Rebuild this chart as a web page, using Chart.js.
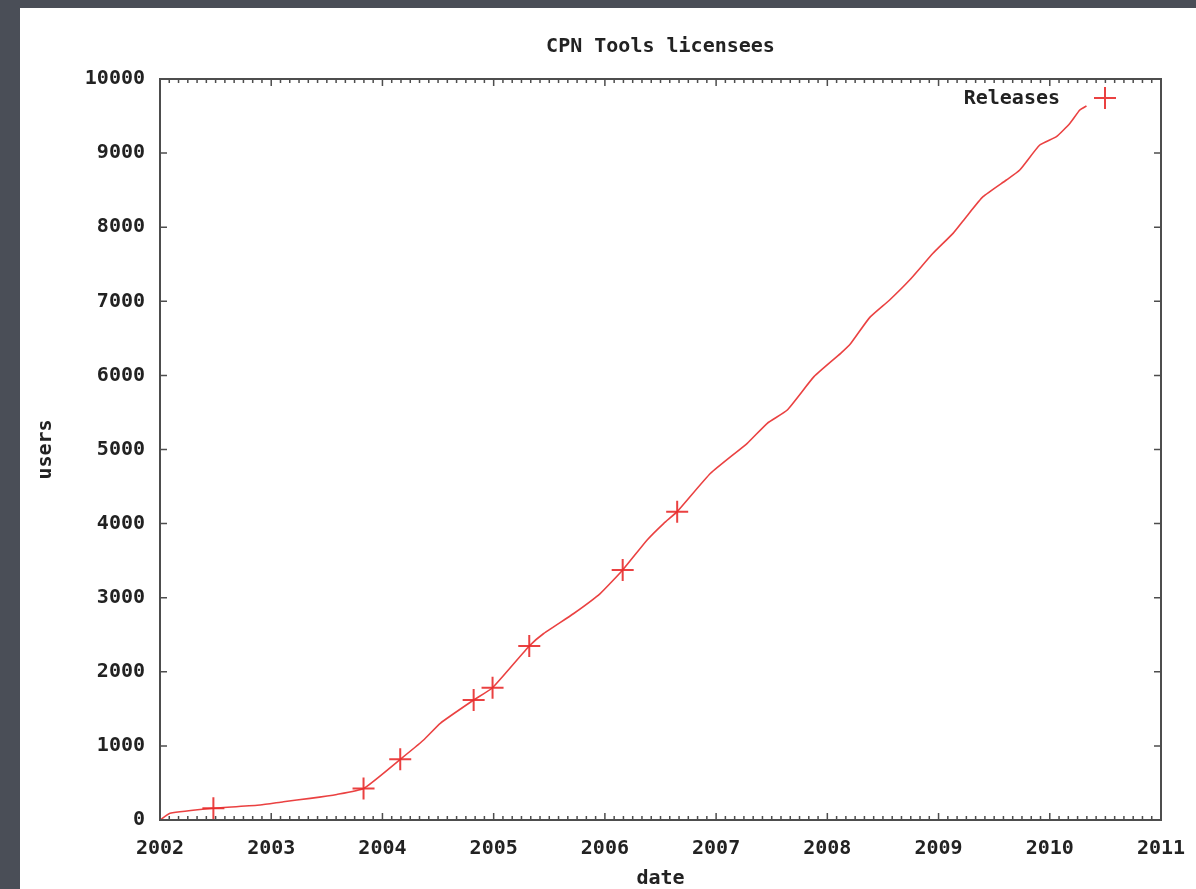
<!DOCTYPE html>
<html>
<head>
<meta charset="utf-8">
<script src="https://cdn.jsdelivr.net/npm/chart.js@4/dist/chart.umd.min.js"></script>
<style>
  html, body { margin: 0; padding: 0; }
  body { width: 1196px; height: 889px; background: #4a4e57; overflow: hidden; position: relative; }
  #panel { position: absolute; left: 20px; top: 8px; width: 1176px; height: 881px; background: #fff; }
  #myChart { display: block; }
</style>
</head>
<body>
<div id="panel"><canvas id="myChart" width="1176" height="881"></canvas></div>
<script>
// licensee curve (decimal year, users)
const lineYears = [2002.0, 2002.09, 2002.48, 2002.9, 2003.11, 2003.35, 2003.59, 2003.83, 2004.16, 2004.37,
  2004.52, 2004.82, 2004.99, 2005.32, 2005.45, 2005.72, 2005.96, 2006.16, 2006.38, 2006.53,
  2006.65, 2006.95, 2007.28, 2007.46, 2007.64, 2007.88, 2008.12, 2008.21, 2008.38, 2008.56,
  2008.74, 2008.95, 2009.13, 2009.25, 2009.40, 2009.61, 2009.73, 2009.91, 2010.06, 2010.18,
  2010.27, 2010.33];
const lineUsers = [0, 90, 158, 202, 247, 292, 345, 425, 819, 1080,
  1305, 1619, 1785, 2348, 2517, 2787, 3059, 3374, 3779, 4004,
  4161, 4679, 5084, 5354, 5533, 5983, 6298, 6430, 6780, 7018,
  7287, 7648, 7917, 8142, 8412, 8637, 8772, 9109, 9221, 9400,
  9582, 9636];

// release markers
const releaseYears = [2002.48, 2003.83, 2004.16, 2004.82, 2004.99, 2005.32, 2006.16, 2006.65];
const releaseUsers = [158, 425, 819, 1619, 1785, 2348, 3374, 4161];

const xTicks = [2002, 2003, 2004, 2005, 2006, 2007, 2008, 2009, 2010, 2011];
const yTicks = [0, 1000, 2000, 3000, 4000, 5000, 6000, 7000, 8000, 9000, 10000];

const red = 'rgba(232, 44, 44, 0.9)';
const frameColor = '#4d4d4d';
const monoFont = { family: '"DejaVu Sans Mono", "Liberation Mono", monospace', size: 20, weight: 'bold' };

const gnuplotFrame = {
    id: 'gnuplot_frame',
    afterDatasetsDraw: (chart) => {
      const c = chart.ctx;
      const a = chart.chartArea;
      const xs = chart.scales.x;
      const ys = chart.scales.y;
      c.save();
      c.strokeStyle = frameColor;
      c.lineWidth = 2;
      c.strokeRect(a.left, a.top, a.right - a.left, a.bottom - a.top);
      c.lineWidth = 1.5;
      c.beginPath();
      // x ticks: major yearly, minor monthly, top and bottom
      for (let y = 2002; y < 2011; y++) {
        for (let m = 0; m < 12; m++) {
          const px = xs.getPixelForValue(y + m / 12);
          const len = m === 0 ? 7 : 4;
          c.moveTo(px, a.bottom); c.lineTo(px, a.bottom - len);
          c.moveTo(px, a.top); c.lineTo(px, a.top + len);
        }
      }
      // y ticks left and right
      yTicks.forEach(v => {
        const py = ys.getPixelForValue(v);
        c.moveTo(a.left, py); c.lineTo(a.left + 7, py);
        c.moveTo(a.right, py); c.lineTo(a.right - 7, py);
      });
      c.stroke();

      // key box (top right)
      c.fillStyle = '#222';
      c.font = 'bold 20px "DejaVu Sans Mono", monospace';
      c.textAlign = 'right';
      c.textBaseline = 'middle';
      c.fillText('Releases', 1040, 91);
      c.strokeStyle = red;
      c.lineWidth = 2;
      c.beginPath();
      c.moveTo(1074, 90); c.lineTo(1096, 90);
      c.moveTo(1085, 79); c.lineTo(1085, 101);
      c.stroke();
      c.restore();
    }
};

const ctx = document.getElementById('myChart');

const myChart = new Chart(ctx, {
    type: 'scatter',
    data: {
        datasets: [{
            label: 'users',
            data: lineYears.map((x, i) => ({ x: x, y: lineUsers[i] })),
            showLine: true,
            borderColor: red,
            borderWidth: 1.6,
            pointRadius: 0,
            tension: 0.15
        },
        {
            label: 'Releases',
            data: releaseYears.map((x, i) => ({ x: x, y: releaseUsers[i] })),
            showLine: false,
            pointStyle: 'cross',
            pointRadius: 11,
            borderColor: red,
            borderWidth: 2,
            backgroundColor: red
        }]
    },
    options: {
        responsive: false,
        animation: false,
        layout: { padding: { left: 0, right: 35, top: 0, bottom: 0 } },
        plugins: {
            legend: { display: false },
            tooltip: { enabled: false },
            title: {
                display: true,
                text: 'CPN Tools licensees',
                fullSize: false,
                color: '#222',
                font: monoFont,
                padding: { top: 27, bottom: 20 }
            }
        },
        scales: {
            x: {
                type: 'linear',
                min: 2002,
                max: 2011,
                afterFit: (s) => { s.height = 69; s.paddingLeft = 0; s.paddingRight = 0; },
                afterBuildTicks: (s) => { s.ticks = xTicks.map(v => ({ value: v })); },
                grid: { display: false, drawTicks: false },
                border: { display: false },
                ticks: {
                    color: '#222',
                    font: monoFont,
                    padding: 17,
                    maxRotation: 0,
                    callback: (v) => String(v)
                },
                title: {
                    display: true,
                    text: 'date',
                    color: '#222',
                    font: monoFont,
                    padding: { top: 0, bottom: -2 }
                }
            },
            y: {
                min: 0,
                max: 10000,
                afterFit: (s) => { s.width = 140; },
                afterBuildTicks: (s) => { s.ticks = yTicks.map(v => ({ value: v })); },
                grid: { display: false, drawTicks: false },
                border: { display: false },
                ticks: {
                    color: '#222',
                    font: monoFont,
                    padding: 15,
                    callback: (v) => String(v)
                },
                title: {
                    display: true,
                    text: 'users',
                    color: '#222',
                    font: monoFont,
                    padding: { top: 14, bottom: 0 }
                }
            }
        }
    },
    plugins: [gnuplotFrame]
});
</script>
</body>
</html>
